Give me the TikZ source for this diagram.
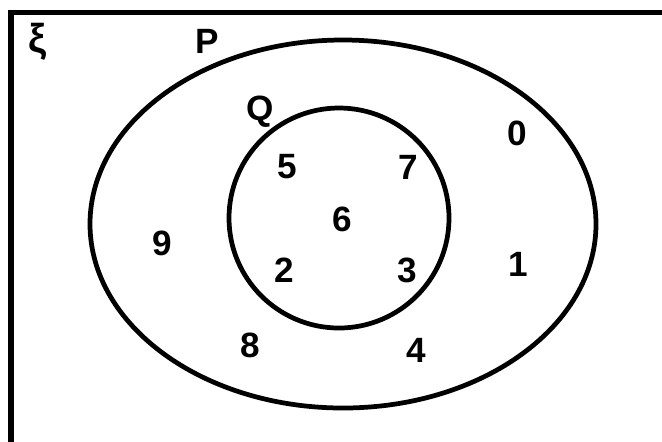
\documentclass[tikz,border=0pt]{standalone}
\usepackage{fontspec}
\setmainfont{Liberation Sans}
\begin{document}
\begin{tikzpicture}[x=0.02cm,y=-0.02cm,line width=2.7pt,
    elem/.style={font=\bfseries\fontsize{20}{24}\selectfont,inner sep=0pt}]
  \useasboundingbox (0,0) rectangle (662,441);
  \clip (0,0) rectangle (662,441);
  % universal set frame (runs off the page)
  \draw[line width=3pt] (11,470) -- (11,12.5) -- (690,12.5);
  % set P and set Q
  \draw (343,224) ellipse [x radius=253,y radius=184];
  \draw (339,218) circle [radius=110];
  % set labels
  \node[elem,font=\bfseries\fontsize{23}{26}\selectfont] (xi) at (37,42) {ξ};
  \node[elem] (labP) at (207,41) {P};
  \node[elem] (labQ) at (260,112) {Q};
  % elements in Q
  \node[elem] (e5) at (287,167) {5};
  \node[elem] (e7) at (408,167) {7};
  \node[elem] (e6) at (342,219) {6};
  \node[elem] (e2) at (284,270) {2};
  \node[elem] (e3) at (407,270) {3};
  % elements in P only
  \node[elem] (e0) at (517,133) {0};
  \node[elem] (e9) at (162,243) {9};
  \node[elem] (e1) at (518,264) {1};
  \node[elem] (e8) at (250,345) {8};
  \node[elem] (e4) at (416,350) {4};
\end{tikzpicture}
\end{document}
